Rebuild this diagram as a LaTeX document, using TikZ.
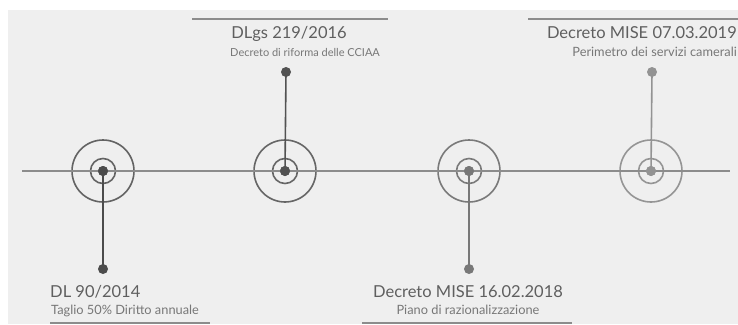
\documentclass[tikz,border=0pt]{standalone}
\usepackage{fontspec}
\setmainfont{Lato}
\definecolor{bg}{HTML}{EFEFEF}
\definecolor{r1}{HTML}{636363}
\definecolor{r2}{HTML}{666666}
\definecolor{r3}{HTML}{7A7A7A}
\definecolor{r4}{HTML}{959595}
\definecolor{c1}{HTML}{4C4C4C}
\definecolor{c2}{HTML}{525252}
\definecolor{c3}{HTML}{787878}
\definecolor{c4}{HTML}{939393}
\definecolor{axis}{HTML}{8C8C8C}
\definecolor{txt}{HTML}{5F5F5F}
\begin{document}
\begin{tikzpicture}[x=1pt,y=-1pt,
  outer/.style={circle,draw,line width=1.6pt,minimum size=62pt,inner sep=0pt},
  inner/.style={circle,draw,line width=1.6pt,minimum size=25pt,inner sep=0pt},
  dot/.style={circle,inner sep=0pt,minimum size=10pt},
  stem/.style={line width=1.6pt},
  title/.style={font=\fontsize{16.5}{18}\selectfont,text=txt,inner sep=0pt},
  sub/.style={font=\fontsize{12.8}{14}\selectfont,text=txt!85,inner sep=0pt},
  rule/.style={line width=1.5pt,draw=axis}]
\useasboundingbox (0,0) rectangle (738,324);
\fill[white] (0,0) rectangle (738,324);
\fill[bg] (8,10) rectangle (738,324);
% axis
\coordinate (L) at (22,171);
\coordinate (R) at (730,171);
\draw[axis,line width=1.2pt] (L) -- (R);
% milestone 1
\node[outer,draw=r1,fill=bg] (o1) at (103,171) {};
\node[inner,draw=r1] (i1) at (103,171) {};
\node[dot,fill=c1] (d1) at (103,171) {};
\node[dot,fill=c1] (e1) at (103,269) {};
\draw[stem,c1] (d1.center) -- (e1.center);
\node[title,anchor=base west] (t1) at (50,297) {DL 90/2014};
\node[sub,anchor=base west] (s1) at (51,314) {Taglio 50\% Diritto annuale};
\coordinate (a1) at (50,323);\coordinate (b1) at (210,323);
\draw[rule] (a1) -- (b1);
% milestone 2
\node[outer,draw=r2,fill=bg] (o2) at (285,171) {};
\node[inner,draw=r2] (i2) at (285,171) {};
\node[dot,fill=c2] (d2) at (285,171) {};
\node[dot,fill=c2] (e2) at (286,72) {};
\draw[stem,c2] (d2.center) -- (e2.center);
\node[title,anchor=base] (t2) at (289,38) {DLgs 219/2016};
\node[sub,anchor=base west,font=\fontsize{11}{13}\selectfont] (s2) at (230,56) {Decreto di riforma delle CCIAA};
\coordinate (a2) at (192,19);\coordinate (b2) at (388,19);
\draw[rule] (a2) -- (b2);
% milestone 3
\node[outer,draw=r3,fill=bg] (o3) at (469,171) {};
\node[inner,draw=r3] (i3) at (469,171) {};
\node[dot,fill=c3] (d3) at (469,171) {};
\node[dot,fill=c3] (e3) at (469,269) {};
\draw[stem,c3] (d3.center) -- (e3.center);
\node[title,anchor=base] (t3) at (468,297) {Decreto MISE 16.02.2018};
\node[sub,anchor=base] (s3) at (468,314) {Piano di razionalizzazione};
\coordinate (a3) at (362,323);\coordinate (b3) at (572,323);
\draw[rule] (a3) -- (b3);
% milestone 4
\node[outer,draw=r4,fill=bg] (o4) at (651,171) {};
\node[inner,draw=r4] (i4) at (651,171) {};
\node[dot,fill=c4] (d4) at (651,171) {};
\node[dot,fill=c4] (e4) at (652,72) {};
\draw[stem,c4] (d4.center) -- (e4.center);
\node[title,anchor=base east] (t4) at (737,38) {Decreto MISE 07.03.2019};
\node[sub,anchor=base east] (s4) at (737,56) {Perimetro dei servizi camerali};
\coordinate (a4) at (528,19);\coordinate (b4) at (738,19);
\draw[rule] (a4) -- (b4);
% redraw axis segments crossing circles
\draw[axis,line width=1.2pt] (o1.west) -- (o1.east) (o2.west) -- (o2.east) (o3.west) -- (o3.east) (o4.west) -- (o4.east);
\node[dot,fill=c1] at (d1) {};
\node[dot,fill=c2] at (d2) {};
\node[dot,fill=c3] at (d3) {};
\node[dot,fill=c4] at (d4) {};
\end{tikzpicture}
\end{document}
